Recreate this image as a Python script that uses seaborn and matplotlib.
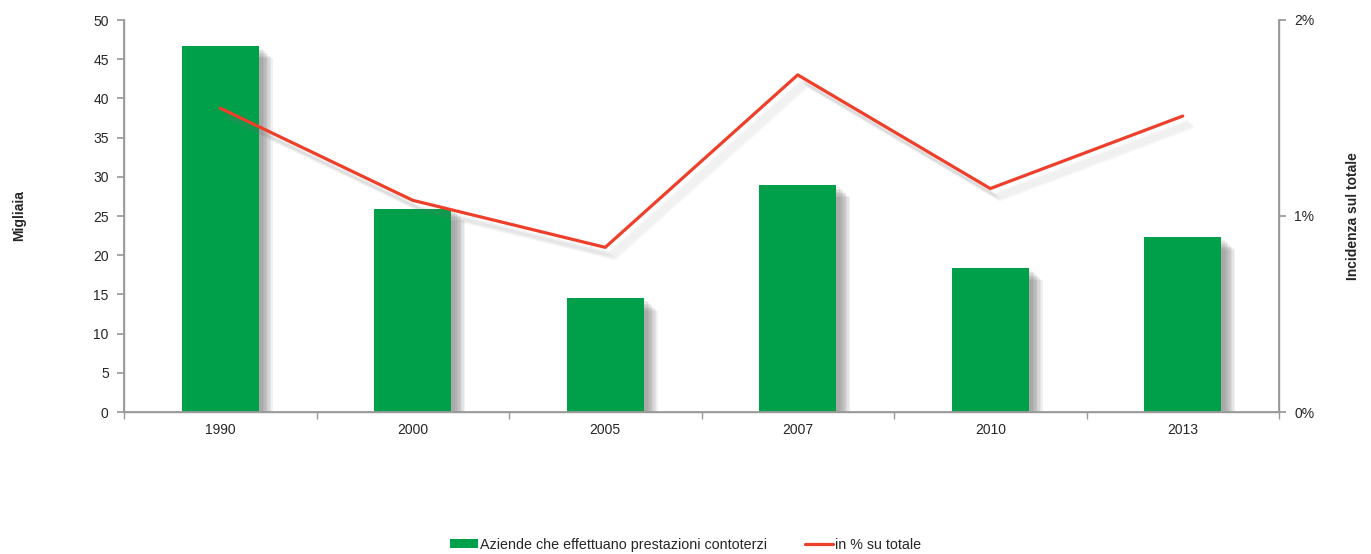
import numpy as np
import matplotlib
matplotlib.use("Agg")
import matplotlib.pyplot as plt
import matplotlib.patheffects as pe
from matplotlib.patches import Patch
from matplotlib.lines import Line2D
from matplotlib.ticker import FixedLocator, PercentFormatter
import seaborn as sns
import pandas as pd

years = ["1990", "2000", "2005", "2007", "2010", "2013"]
aziende = [46.7, 25.9, 14.5, 29.0, 18.4, 22.3]
incidenza = [1.55, 1.08, 0.84, 1.72, 1.14, 1.51]

sns.set_theme(style="white")
plt.rcParams['font.family'] = ['Liberation Sans', 'DejaVu Sans']

df = pd.DataFrame({"anno": years, "aziende": aziende, "incidenza": incidenza})

fig = plt.figure(figsize=(13.71, 5.54), dpi=100)
ax = fig.add_axes([124/1371, 1-412/554, (1279-124)/1371, (412-20)/554])

green = "#00A04A"
red = "#EE3F2A"
gray = "#999999"
fs = 10

sns.barplot(data=df, x="anno", y="aziende", ax=ax, color=green, width=0.4,
            saturation=1, edgecolor="none")
bar_fx = [pe.SimplePatchShadow(offset=(o, -o + 1), shadow_rgbFace="#444444", alpha=0.07)
          for o in (3, 4, 5, 6, 7, 8, 9, 10)] + [pe.Normal()]
for p in ax.patches:
    p.set_path_effects(bar_fx)

ax.set_xlim(-0.5, 5.5)
ax.set_ylim(0, 50)
ax.set_yticks(np.arange(0, 51, 5))
ax.set_xlabel("")
ax.set_ylabel("Migliaia", fontsize=fs, fontweight="bold")
ax.yaxis.set_label_coords((26 - 124) / 1155, 0.5)
ax.tick_params(axis="y", labelsize=fs, length=5, color=gray, left=True, pad=6)
ax.tick_params(axis="x", labelsize=fs, length=0, pad=8)
ax.xaxis.set_minor_locator(FixedLocator(np.arange(-0.5, 6.0, 1.0)))
ax.tick_params(axis="x", which="minor", length=5, color=gray, bottom=True)
ax.spines["top"].set_visible(False)
for s in ["left", "bottom", "right"]:
    ax.spines[s].set_color(gray)
    ax.spines[s].set_linewidth(1)

ax2 = ax.twinx()
xpos = np.arange(len(years))
line_fx = [pe.SimpleLineShadow(offset=(o, -o - 1), shadow_color="#777777", alpha=0.06)
           for o in (3, 4, 5, 6, 7)] + [pe.Normal()]
sns.lineplot(x=xpos, y=df["incidenza"], ax=ax2, color=red, linewidth=2.3,
             path_effects=line_fx)
ax2.set_ylim(0, 2)
ax2.set_yticks([0, 1, 2])
ax2.yaxis.set_major_formatter(PercentFormatter(decimals=0))
ax2.tick_params(axis="y", labelsize=fs, length=5, color=gray, right=True, pad=6)
ax2.set_ylabel("Incidenza sul totale", fontsize=fs, fontweight="bold")
ax2.yaxis.set_label_coords((1346 - 124) / 1155, 0.5)
ax2.spines["top"].set_visible(False)
for s in ["left", "bottom", "right"]:
    ax2.spines[s].set_color(gray)
ax2.set_xlim(-0.5, 5.5)

handles = [Patch(facecolor=green, edgecolor="none"),
           Line2D([0], [0], color=red, linewidth=2.3)]
labels = ["Aziende che effettuano prestazioni contoterzi", "in % su totale"]
fig.legend(handles, labels, loc="center", bbox_to_anchor=(0.5, 1-545/554), ncol=2,
           frameon=False, fontsize=10.3, handlelength=2.0, handleheight=0.6,
           handletextpad=0.15, columnspacing=2.6)

fig.savefig("out.png", dpi=100)
